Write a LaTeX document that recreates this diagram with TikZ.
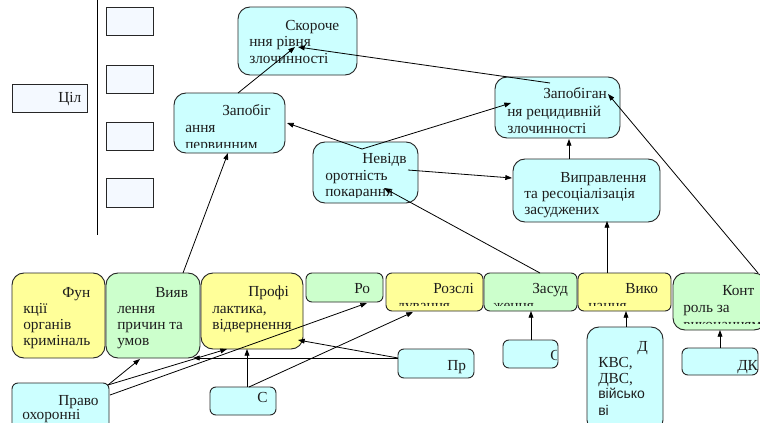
\documentclass[tikz,border=0pt]{standalone}
\usepackage{fontspec}
\setmainfont{Liberation Serif}
\newfontfamily\sansf{Liberation Sans}
\usetikzlibrary{fit,arrows.meta}
\definecolor{cy}{HTML}{CCFFFF}
\definecolor{ye}{HTML}{FFFF99}
\definecolor{gr}{HTML}{CCFFCC}
\definecolor{wh}{HTML}{F4F9FF}
\definecolor{tc}{HTML}{1E1E1E}
\newcounter{tlc}
\newcommand\tl[3]{\stepcounter{tlc}\node[txt] (t\arabic{tlc}) at (#1,#2) {#3};}
\newcommand\mybox[6]{\node[fit={(#2,#3) (#4,#5)}, inner sep=0pt, boxline, #6] (#1) {};}
\begin{document}
\begin{tikzpicture}[x=0.75pt,y=-0.75pt,
 txt/.style={anchor=base west, inner sep=0pt, font=\fontsize{11.5pt}{13pt}\selectfont, text=tc},
 stxt/.style={txt, font=\sansf\fontsize{10.5pt}{12pt}\selectfont},
 boxline/.style={draw=black!85, line width=0.7pt},
 big/.style={rounded corners=9pt},
 small/.style={rounded corners=4.5pt},
 arr/.style={-{Triangle[length=5pt,width=3.6pt]}, line width=0.6pt, black}]
\fill[white] (0,0) rectangle (760,422);
\useasboundingbox (0,0) rectangle (760,422);

% left part
\draw[line width=0.6pt] (97,0) -- (97,235);
\mybox{w1}{106}{7}{153}{35}{fill=wh}
\mybox{w2}{106}{65}{153}{93}{fill=wh}
\mybox{w3}{106}{122}{153}{150}{fill=wh}
\mybox{w4}{106}{178}{153}{207}{fill=wh}
\mybox{cil}{12}{84}{87}{112}{fill=wh}
\tl{58}{102}{Ціл}

% upper boxes
\mybox{skor}{238}{7}{357}{75}{big, fill=cy}
\tl{285}{30}{Скороче}
\tl{249}{46}{ння рівня}
\tl{249}{63}{злочинності}

\mybox{zap1}{174}{93}{285}{153}{big, fill=cy}
\begin{scope}
\clip (174,93) rectangle (285,147);
\tl{222}{115}{Запобіг}
\tl{185}{132}{ання}
\tl{185}{149}{первинним}
\end{scope}

\mybox{nevid}{313}{142}{418}{203}{big, fill=cy}
\begin{scope}
\clip (313,142) rectangle (418,197);
\tl{362}{163}{Невідв}
\tl{325}{180}{оротність}
\tl{325}{196}{покарання}
\end{scope}

\mybox{zap2}{495}{77}{620}{138}{big, fill=cy}
\tl{543}{98}{Запобіган}
\tl{507}{116}{ня рецидивній}
\tl{507}{133}{злочинності}

\mybox{vypr}{513}{159}{660}{222}{big, fill=cy}
\tl{560}{182}{Виправлення}
\tl{524}{198}{та ресоціалізація}
\tl{524}{214}{засуджених}

% bottom row
\mybox{fun}{12}{273}{105}{358}{big, fill=ye}
\tl{62}{297}{Фун}
\tl{23}{313}{кції}
\tl{23}{329}{органів}
\tl{23}{345}{криміналь}

\mybox{vyav}{106}{273}{200}{358}{big, fill=gr}
\tl{155}{297}{Вияв}
\tl{117}{313}{лення}
\tl{117}{329}{причин та}
\tl{117}{345}{умов}

\mybox{prof}{201}{273}{303}{349}{big, fill=ye}
\tl{248}{296}{Профі}
\tl{212}{313}{лактика,}
\tl{212}{329}{відвернення}

\mybox{ro}{306}{273}{383}{302}{small, fill=gr}
\tl{354}{293}{Ро}

\mybox{rozs}{386}{273}{483}{311}{small, fill=ye}
\begin{scope}
\clip (386,273) rectangle (483,305);
\tl{433}{293}{Розслі}
\tl{397}{310}{дування}
\end{scope}

\mybox{zasud}{484}{273}{577}{311}{small, fill=gr}
\begin{scope}
\clip (484,273) rectangle (577,305);
\tl{532}{293}{Засуд}
\tl{493}{310}{ження}
\end{scope}

\mybox{vyko}{578}{273}{671}{311}{small, fill=ye}
\begin{scope}
\clip (578,273) rectangle (671,305);
\tl{625}{293}{Вико}
\tl{588}{310}{нання}
\end{scope}

\mybox{kont}{673}{273}{766}{330}{big, fill=gr}
\begin{scope}
\clip (673,273) rectangle (760,323);
\tl{722}{295}{Конт}
\tl{683}{312}{роль за}
\tl{683}{329}{виконанням}
\end{scope}

% lower small boxes
\mybox{pr}{398}{349}{474}{378}{small, fill=cy}
\tl{447}{370}{Пр}
\mybox{s1}{210}{387}{276}{415}{small, fill=cy}
\tl{257}{402}{С}
\mybox{s2}{503}{340}{558}{368}{small, fill=cy}
\begin{scope}
\clip (503,340) rectangle (556,368);
\tl{550}{360}{С}
\end{scope}
\mybox{d}{587}{327}{663}{432}{big, fill=cy}
\tl{637}{351}{Д}
\tl{598}{367}{КВС,}
\tl{598}{383}{ДВС,}
\stepcounter{tlc}\node[stxt] (t\arabic{tlc}) at (598,398) {військо};
\stepcounter{tlc}\node[stxt] (t\arabic{tlc}) at (598,415) {ві};
\mybox{dk}{682}{348}{758}{375}{small, fill=cy}
\tl{737}{370}{ДК}
\mybox{pravo}{12}{383}{109}{432}{small, fill=cy}
\tl{58}{405}{Право}
\tl{22}{419}{охоронні}

% connector points
\coordinate (a1) at (183,273); \coordinate (b1) at (228,153);
\coordinate (a2) at (238,93);  \coordinate (b2) at (295,47);
\coordinate (a3) at (550,83);  \coordinate (b3) at (298,47);
\coordinate (a4) at (362,149); \coordinate (b4) at (287,123);
\coordinate (b5) at (511,103);
\coordinate (a6) at (408,170); \coordinate (b6) at (512,178);
\coordinate (a7) at (540,273); \coordinate (b7) at (384,188);
\coordinate (a8) at (607,273); \coordinate (b8) at (607,221);
\coordinate (a9) at (569,159); \coordinate (b9) at (569,139);
\coordinate (a10) at (758,273); \coordinate (b10) at (608,94);
\coordinate (a11) at (108,385); \coordinate (b11) at (140,359);
\coordinate (b12) at (227,349);
\coordinate (a13) at (110,395); \coordinate (b13) at (367,303);
\coordinate (a14) at (247,387); \coordinate (b14) at (247,349);
\coordinate (a15) at (249,387); \coordinate (b15) at (413,312);
\coordinate (a16) at (398,358); \coordinate (b16) at (193,358);
\coordinate (b17) at (298,340);
\coordinate (a18) at (531,340); \coordinate (b18) at (531,311);
\coordinate (a19) at (626,327); \coordinate (b19) at (626,311);
\coordinate (a20) at (720,348); \coordinate (b20) at (720,330);

\draw[arr] (a1) -- (b1);
\draw[arr] (a2) -- (b2);
\draw[arr] (a3) -- (b3);
\draw[arr] (a4) -- (b4);
\draw[arr] (a4) -- (b5);
\draw[arr] (a6) -- (b6);
\draw[arr] (a7) -- (b7);
\draw[arr] (a8) -- (b8);
\draw[arr] (a9) -- (b9);
\draw[arr] (a10) -- (b10);
\draw[arr] (a11) -- (b11);
\draw[arr] (a11) -- (b12);
\draw[arr] (a13) -- (b13);
\draw[arr] (a14) -- (b14);
\draw[arr] (a15) -- (b15);
\draw[arr] (a16) -- (b16);
\draw[arr] (a16) -- (b17);
\draw[arr] (a18) -- (b18);
\draw[arr] (a19) -- (b19);
\draw[arr] (a20) -- (b20);
\end{tikzpicture}
\end{document}
